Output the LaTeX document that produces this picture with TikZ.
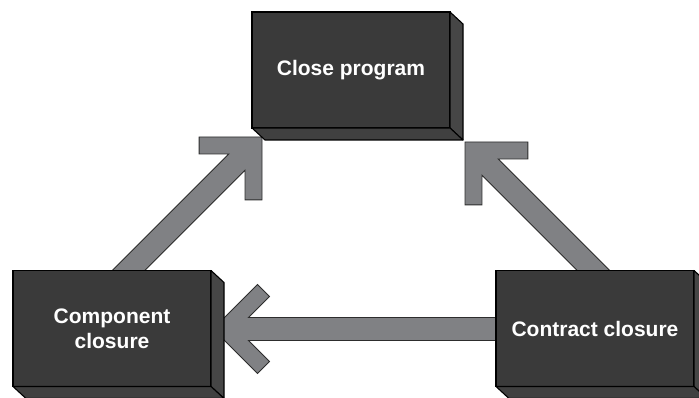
\documentclass[tikz,border=0pt]{standalone}
\usepackage{fontspec}
\setmainfont{Liberation Sans}
\usetikzlibrary{calc,backgrounds}
\definecolor{frontgray}{RGB}{58,58,58}
\definecolor{sidegray}{RGB}{70,70,70}
\definecolor{bottomgray}{RGB}{64,64,64}
\definecolor{arrowgray}{RGB}{128,129,132}
\definecolor{arrowedge}{RGB}{45,45,45}
\tikzset{
  blockbox/.style={rectangle, draw=black, line width=1.1pt, fill=frontgray,
    minimum width=198pt, minimum height=116pt, outer sep=0pt, inner sep=0pt,
    text=white, align=center, font=\fontsize{21}{25}\selectfont\bfseries},
  sideface/.style={draw=black, line width=1.1pt, fill=sidegray, line join=round},
  bottomface/.style={draw=black, line width=1.1pt, fill=bottomgray, line join=round},
  arrowbody/.style={draw=arrowedge, line width=0.9pt, fill=arrowgray, line join=miter},
  pics/fatarrow/.style={code={
    \draw[arrowbody] (0,0) -- (-44.5,44.5) -- (-56.5,32.5) -- (-35.5,11.5)
      -- (-#1,11.5) -- (-#1,-11.5) -- (-35.5,-11.5) -- (-56.5,-32.5)
      -- (-44.5,-44.5) -- cycle;
  }}
}
\newcommand\blockfaces[1]{%
  \draw[sideface] (#1.north east) -- ++(13,-12) -- ($(#1.south east)+(13,-12)$) -- (#1.south east) -- cycle;
  \draw[bottomface] (#1.south west) -- ++(13,-12) -- ($(#1.south east)+(13,-12)$) -- (#1.south east) -- cycle;
}
\begin{document}
\begin{tikzpicture}[x=1pt,y=1pt]
\useasboundingbox (0,0) rectangle (699,398);
\node[blockbox] (close) at (351,328) {Close program};
\node[blockbox] (comp) at (112,69.5) {Component\\closure};
\node[blockbox] (contr) at (595,69.5) {Contract closure};
\blockfaces{close}
\blockfaces{comp}
\blockfaces{contr}
\coordinate (tipL) at ($(close.south west)+(10,-9)$);
\coordinate (tipR) at ($(close.south east)+(15,-14)$);
\coordinate (tipB) at ($(comp.east)+(2,-0.5)$);
\begin{scope}[on background layer]
  \pic[rotate=45] at (tipL) {fatarrow=215};
  \pic[rotate=135] at (tipR) {fatarrow=205};
  \pic[rotate=180] at (tipB) {fatarrow=300};
\end{scope}
\end{tikzpicture}
\end{document}
